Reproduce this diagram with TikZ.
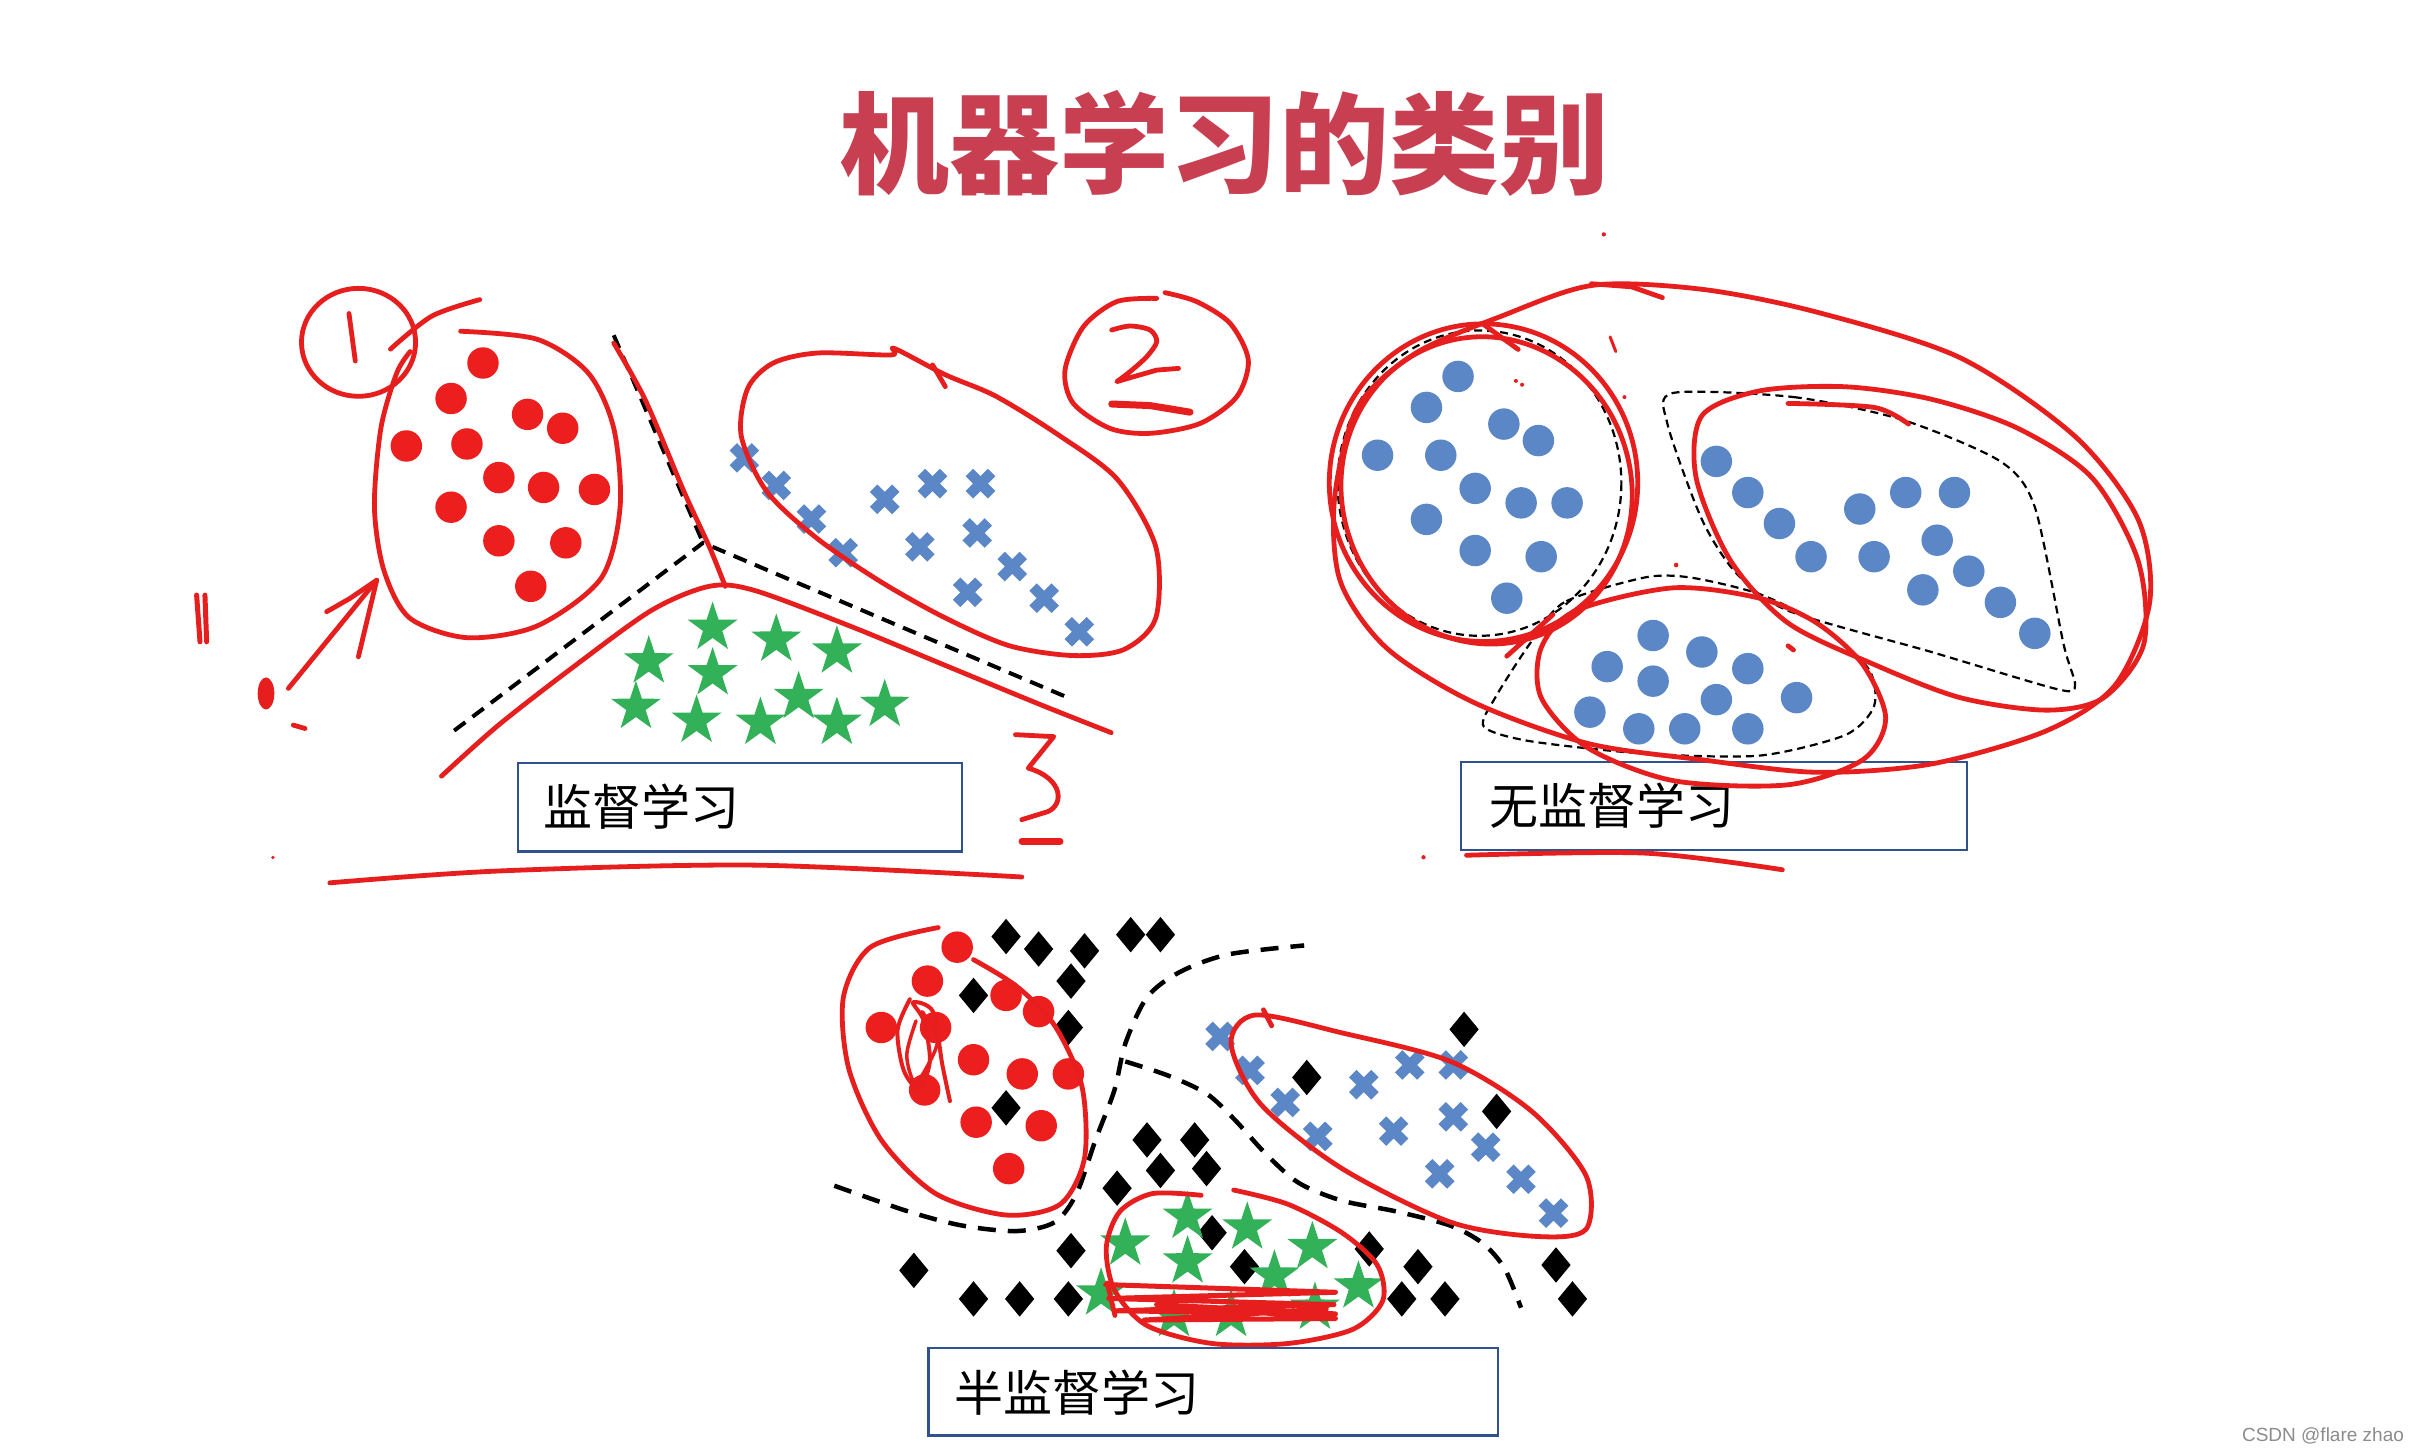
\documentclass[tikz,border=0pt]{standalone}
\usepackage{fontspec}
\setmainfont{Liberation Sans}
\newfontfamily\cjk{Noto Sans CJK SC}
\definecolor{titlered}{RGB}{201,63,82}
\definecolor{penred}{RGB}{230,30,30}
\definecolor{dotred}{RGB}{236,30,30}
\definecolor{bluec}{RGB}{91,135,199}
\definecolor{greenc}{RGB}{50,177,88}
\definecolor{boxblue}{RGB}{47,82,143}
\begin{document}
\begin{tikzpicture}[x=1.542pt,y=-1.542pt,
  pen/.style={draw=penred, line width=4.8pt, line cap=round, line join=round},
  thickdash/.style={draw=black, line width=4pt, dash pattern=on 14pt off 9pt},
  thindash/.style={draw=black, line width=2.2pt, dash pattern=on 8pt off 5pt},
  semidash/.style={draw=black, line width=4.5pt, dash pattern=on 18pt off 12pt},
  labelbox/.style={draw=boxblue, line width=2.2pt, inner sep=0pt, anchor=north west},
  labeltext/.style={anchor=west, inner sep=0pt, font=\cjk\fontsize{49pt}{49pt}\selectfont},
  reddot/.pic={\fill[dotred] (0,0) circle (10.2);},
  bluedot/.pic={\fill[bluec] (0,0) circle (10.2);},
  bluecross/.pic={\draw[bluec, line width=10.5pt] (-7.2,-7.2)--(7.2,7.2) (-7.2,7.2)--(7.2,-7.2);},
  greenstar/.pic={\fill[greenc] (-90:17)--(-54:6.6)--(-18:17)--(18:6.6)--(54:17)--(90:6.6)--(126:17)--(162:6.6)--(198:17)--(234:6.6)--cycle;},
  blackdia/.pic={\fill[black] (0,-11.5)--(9.5,0)--(0,11.5)--(-9.5,0)--cycle;}
]
\useasboundingbox[fill=white] (0,0) rectangle (1568,942);

% ---------------- title
\node[text=titlered, inner sep=0pt, font=\cjk\bfseries\fontsize{110pt}{110pt}\selectfont] (title) at (794,93) {机器学习的类别};

% ================= panel 1: supervised
\foreach \x/\y in {313.2/235.4, 292.5/258.4, 342.1/268.7, 364.9/277.7, 263.5/289.2, 302.8/287.9, 323.5/309.7, 352.5/316.1, 385.5/317.4, 292.5/328.9, 323.5/350.7, 366.9/352, 344.2/380.2}
  \pic at (\x,\y) {reddot};
\foreach \x/\y in {482.7/296.9, 503.4/314.8, 526.2/336.6, 546.8/358.4, 573.7/323.8, 604.7/313.6, 635.8/313.6, 596.5/354.6, 633.7/345.6, 656.4/367.4, 627.5/384.1, 677.1/387.9, 699.9/409.7}
  \pic at (\x,\y) {bluecross};
\foreach \x/\y in {462.1/407.1, 503.4/414.8, 542.7/422.5, 420.7/428.9, 462.1/436.6, 517.9/452, 412.4/458.4, 573.7/457.1, 451.7/467.4, 493.1/468.7, 542.7/468.7}
  \pic at (\x,\y) {greenstar};

\coordinate (j1) at (455.9,352);
\coordinate (d1a) at (294.5,473.8);
\coordinate (d1b) at (691.6,452);
\coordinate (d1c) at (398,217.4);
\draw[thickdash] (d1a) -- (j1) -- (d1b);
\draw[thickdash] (d1c) -- (j1);

% circle 1
\draw[pen] (232.5,222) ellipse [x radius=37, y radius=35];
\draw[pen] (226.3,203.3) -- (230.4,234.1);
\draw[pen] plot[smooth] coordinates {(253.2,226.4) (280,205) (311.1,194.3)};
% red cluster loop
\draw[pen] plot[smooth] coordinates {(298.7,214.8) (348.3,220) (381.4,241.8) (398,277.7) (402.1,328.9) (389.7,375.1) (348.3,405.9) (302.8,413.5) (265.6,400.7) (249,370) (242.8,328.9) (247,277.7) (257.3,241.8) (266,228)};
% divider and hump
\draw[pen] plot[smooth] coordinates {(398,222.5) (418.6,259.7) (443.5,318.7) (460,354.6) (470.3,380.2)};
\draw[pen] plot[smooth] coordinates {(286.3,503.3) (323.5,470) (373.1,431.5) (422.8,395.6) (460,380.2) (489,382.8) (551,405.9) (613,431.5) (675.1,457.1) (720.6,475.1)};
\draw[pen] plot[smooth] coordinates {(213.9,572.5) (323.5,564.8) (489,561) (662.6,568.7)};
% blue loop
\draw[pen] plot[smooth cycle] coordinates {(577.9,230.2) (530.3,228.9) (501.4,235.4) (484.8,252) (480.7,282.8) (497.2,318.7) (530.3,349.5) (571.7,377.6) (613,400.7) (654.4,418.7) (695.7,425.1) (728.8,421.2) (749.5,400.7) (749.5,354.6) (724.7,311) (687.5,282.8) (646.1,257.1) (613,243) (580,226)};
\draw[pen] (604.7,236.6) -- (613,250.7);
% circle 2
\draw[pen] plot[smooth] coordinates {(755.5,189.8) (776,195.6) (797.7,209.7) (809.5,233.5) (802,257.3) (778.2,274.6) (745.8,281) (719.8,277.8) (696,261.6) (690.6,240) (702.5,211.9) (724.1,195.6) (750.1,193.5)};
\draw[pen] plot[smooth] coordinates {(720.9,214) (732.8,211.4) (745.8,214) (750.1,221.6) (743.6,231.3) (732.8,241) (724.2,247.5)} -- (735,244.3) -- (750.1,240) -- (764.2,238.9);
\draw[pen, line width=7pt] (720.9,262) -- (745.8,263) -- (771.7,267.3);
% arrow and marks
\draw[pen] (187,446.4) -- (244.3,376.2);
\draw[pen] (211.8,396.7) -- (227,388) -- (244.3,376.2) -- (232.4,425.9);
\draw[pen, line width=5pt] (127.5,385.9) -- (129.7,416.2) (132.9,385.9) -- (134,416.2);
\fill[penred] (172.5,449.7) ellipse [x radius=5.4, y radius=10.4];
\draw[pen] (190.2,470.2) -- (197.8,472.4);
\fill[penred] (177,556) circle (1.2);
% "3"
\draw[pen] (658.5,476.4) -- (683.3,477.7) -- (666.8,498.1) .. controls (690,505) and (690,522) .. (679.2,526.4) -- (662.6,531.5);
\draw[pen, line width=6.5pt] (662.6,545.6) -- (687.5,545.6);

\node[labelbox, minimum width=444.4pt, minimum height=88.2pt] (supbox) at (335.1,494.3) {};
\node[labeltext] (suptext) at (352.5,523) {监督学习};

% ================= panel 2: unsupervised
\foreach \x/\y in {945.5/244.1, 925/264.2, 975.2/275, 997.6/285.7, 893.3/295.2, 934.3/295.2, 956.6/316.7, 986.4/326.1, 1016.2/326.1, 925/336.8, 956.6/357, 999.4/361, 977.1/387.9,
  1113/299.2, 1133.4/319.4, 1153.9/339.5, 1174.4/361, 1206/330.1, 1235.8/319.4, 1267.4/319.4, 1215.3/361, 1256.2/350.3, 1276.7/370.4, 1246.9/382.5, 1297.2/390.6, 1319.5/410.7,
  1072/412.1, 1103.6/422.8, 1042.2/432.3, 1072/441.7, 1133.4/433.6, 1113/453.7, 1165/452.4, 1031/461.8, 1062.7/472.6, 1092.5/472.6, 1133.4/472.6}
  \pic at (\x,\y) {bluedot};

\draw[thindash] (959.4,313.3) ellipse [x radius=92, y radius=99];
\draw[thindash] plot[smooth cycle, tension=0.45] coordinates {(1085,254.8) (1163.2,257.5) (1233.9,272.3) (1297.2,299.2) (1319.5,328.8) (1338.1,417.5) (1345.6,444.3) (1334.4,447) (1252.5,422.8) (1159.5,396) (1126,371.8) (1103.6,336.8) (1081.3,275)};
\draw[thindash] plot[smooth cycle, tension=0.45] coordinates {(1066.4,374.5) (1014.3,390.6) (992,417.5) (969.6,452.4) (962.2,471.2) (992,480.6) (1066.4,488.7) (1140.9,490) (1196.7,476.6) (1215.3,457.8) (1211.6,433.6) (1178.1,404) (1140.9,385.2) (1096.2,374.5)};

\node[labelbox, minimum width=506.2pt, minimum height=88.2pt] (unsbox) at (946.6,493.3) {};
\node[labeltext] (unstext) at (966,522.3) {无监督学习};

\draw[pen] plot[smooth cycle] coordinates {(1032.9,185) (1103.6,187.6) (1178.1,202.4) (1271.1,232) (1345.6,283) (1386.5,336.8) (1394,390.6) (1371.6,444.3) (1327,473.9) (1252.5,495.4) (1178.1,500.8) (1103.6,492.7) (1029.2,482) (954.8,455.1) (899,420.1) (869.2,377.1) (865.4,323.4) (880.3,264.2) (917.5,229.3) (973.4,205.1)};
\draw[pen] (1032,184) -- (1058,186) -- (1078,193);
\draw[pen] (962,313) ellipse [x radius=100, y radius=103];
\draw[pen, rotate around={15:(964,318)}] (964,318) ellipse [x radius=94, y radius=100];
\draw[pen] (962.2,210.5) -- (984.5,226.6);
\draw[pen] (1007,398.6) -- (977.1,425.5);
\draw[pen] plot[smooth cycle] coordinates {(1103.6,269.6) (1099.9,309.9) (1122.3,363.7) (1159.5,404) (1215.3,430.9) (1271.1,452.4) (1327,460.5) (1364.2,452.4) (1390.2,417.5) (1386.5,363.7) (1356.7,309.9) (1308.4,277.7) (1252.5,258.9) (1196.7,250.8) (1140.9,253.5)};
\draw[pen] plot[smooth] coordinates {(1159.5,261.6) (1215.3,264.2) (1237.6,275)};
\draw[pen] plot[smooth cycle] coordinates {(1085,381.2) (1021.8,396) (999.4,420.1) (999.4,452.4) (1029.2,484.7) (1085,506.2) (1159.5,508.9) (1207.9,492.7) (1222.8,465.8) (1207.9,430.9) (1178.1,404) (1140.9,387.9)};
\draw[pen] (1159.5,418.8) -- (1163,421.5);
\draw[pen] plot[smooth] coordinates {(951,554.6) (1066.4,553.2) (1155.8,564)};
\fill[penred] (923.1,555.9) circle (1.4) (1040,152) circle (1.4) (983,247) circle (1.3) (987,249.5) circle (1.3) (1053.4,257.5) circle (1.3) (1086.9,366.4) circle (1.5);
\draw[pen, line width=3pt] (1044.1,218.5) -- (1047.8,228);

% ================= panel 3: semi-supervised
\foreach \x/\y in {652.4/607.3, 673.5/615.4, 703.3/616.6, 733.2/606.1, 752.5/606.1, 694.5/636.2, 631.3/645.5, 692.8/666.3, 949.4/667.5, 847.4/698.7, 652.4/718.4, 970.5/720.7, 743.8/739.2, 774.7/739.2, 752.5/759, 782.4/757.8, 724.4/770.5, 786/799.4, 694.5/811, 592.6/823.8, 807/821.4, 887.9/809.9, 919.5/821.4, 1009/820.3, 631.3/842.3, 661.2/842.3, 692.8/842.3, 909/842.3, 937/842.3, 1019.7/842.3}
  \pic at (\x,\y) {blackdia};
\foreach \x/\y in {620.7/614.2, 601.4/636.2, 652.4/645.5, 673.5/656, 571.5/666.3, 606.7/666.3, 631.3/687.2, 662.9/696.4, 692.8/696.4, 599.6/706.8, 633/727.7, 675.2/730, 654.1/757.8}
  \pic at (\x,\y) {reddot};
\foreach \x/\y in {791.2/672.1, 810.6/694.1, 833.4/714.9, 854.5/736.9, 884.4/703.4, 914.2/690.6, 942.4/690.6, 903.7/733.5, 942.4/724.2, 963.4/743.9, 933.6/761.2, 986.3/764.7, 1007.4/786.7}
  \pic at (\x,\y) {bluecross};
\foreach \x/\y in {770.1/789, 808.8/796, 729.7/806.4, 851/808.7, 770.1/818, 826.4/827.2, 714/838.8, 880.9/834.2, 761.3/852.7, 798.3/852.7, 852.7/848}
  \pic at (\x,\y) {greenstar};

\draw[semidash] plot[smooth] coordinates {(541,768.9) (589.1,785.6) (624.3,794.8) (659.4,798.3) (684,792.5) (698.1,774) (710.4,739.2) (722.7,706.8) (729.7,676.8) (743.8,646.7) (764.9,630.4) (796.5,618.9) (845.7,613.1)};
\draw[semidash] plot[smooth] coordinates {(729.7,688.3) (757.8,697.6) (782.4,709.2) (800,725.4) (821.1,748.5) (842.2,767.1) (870.3,778.6) (905.5,785.6) (940.6,794.8) (961.7,806.4) (975.7,822.6) (986.3,848)};

\draw[pen] plot[smooth] coordinates {(608.4,601.5) (564.5,614.2) (546.9,646.7) (550.4,693) (571.5,739.3) (606.7,774) (652.4,787.9) (687.5,780.9) (703.3,750.8) (701.6,704.5) (684,665.2) (659.4,639.7) (631.3,622.3)};
\draw[pen, line width=4pt] plot[smooth] coordinates {(590,648) (582,668) (586,694) (596,706) (603,688) (599,662) (592,650) (605,656) (611,690) (616,714)};
\draw[pen, line width=3.5pt] plot[smooth] coordinates {(598,656) (608,674) (601,692) (593,702) (588,684) (594,662)};
\draw[pen] plot[smooth] coordinates {(819.3,654.8) (824.6,665.2)};
\draw[pen] plot[smooth cycle] coordinates {(814.1,658.2) (870.3,669.8) (940.6,688.3) (993.3,720.7) (1028.5,762.4) (1028.5,797.1) (996.8,801.8) (940.6,792.5) (870.3,757.8) (817.6,716.1) (798.3,676.8)};
\draw[pen] plot[smooth] coordinates {(778.9,775.1) (747.3,774) (726.2,785.6) (717.4,808.7) (722.7,836.5) (743.8,859.6) (786,871.2) (835.2,871.2) (877.3,862) (896.7,843.4) (893.1,820.3) (870.3,799.4) (835.2,780.9) (800,771.7)};
\draw[pen, line width=5pt] (717,833) -- (866,838) -- (719,842) -- (865,846) -- (724,850) -- (866,852) -- (750,846) -- (866,855) -- (742,856) -- (860,849);
\draw[pen] (718,832) -- (723,853);

\node[labelbox, minimum width=569.2pt, minimum height=87.4pt] (semibox) at (601.4,873.5) {};
\node[labeltext] (semitext) at (619,903) {半监督学习};

% watermark
\node[anchor=east, inner sep=0pt, text=black!45, font=\fontsize{19pt}{19pt}\selectfont] (wm) at (1559,931) {CSDN @flare zhao};
\end{tikzpicture}
\end{document}
